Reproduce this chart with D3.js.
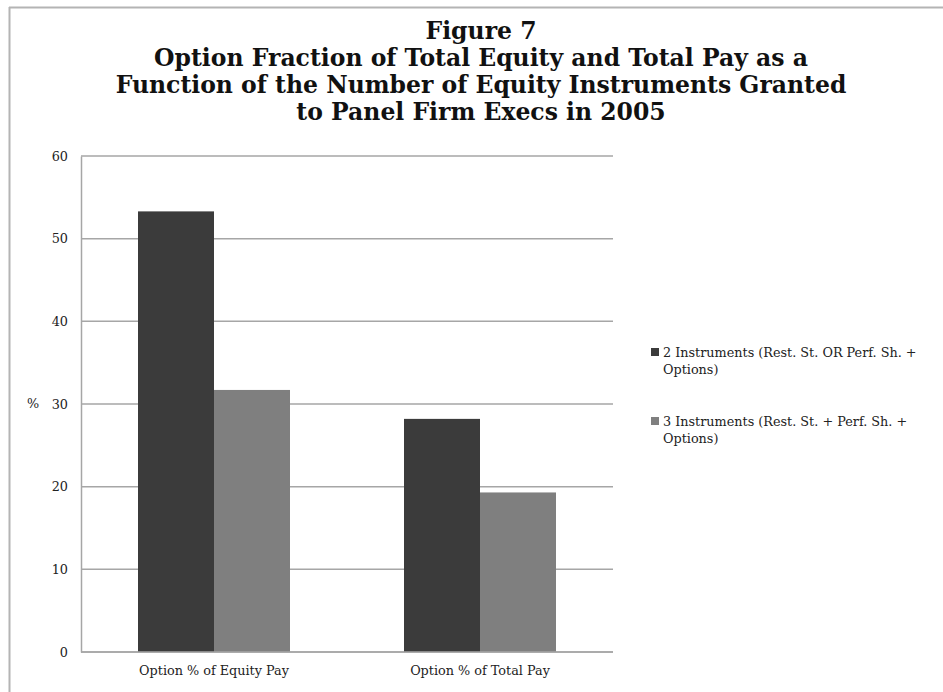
<!DOCTYPE html>
<html>
<head>
<meta charset="utf-8">
<script src="https://cdn.jsdelivr.net/npm/d3@7"></script>
<style>
  html, body { margin: 0; padding: 0; background: #fff; }
  svg { display: block; }
  text { font-family: "DejaVu Serif", "Liberation Serif", serif; fill: #222; }
</style>
</head>
<body>
<svg id="chart" width="943" height="692"></svg>
<script>
// Chart data
const titleLines = [
  "Figure 7",
  "Option Fraction of Total Equity and Total Pay as a",
  "Function of the Number of Equity Instruments Granted",
  "to Panel Firm Execs in 2005"
];
const categories = ["Option % of Equity Pay", "Option % of Total Pay"];
const seriesNames = [
  ["2 Instruments (Rest. St. OR Perf. Sh. +", "Options)"],
  ["3 Instruments (Rest. St. + Perf. Sh. +", "Options)"]
];
const twoInstruments = [53.3, 28.2];
const threeInstruments = [31.7, 19.3];
const yTicks = [0, 10, 20, 30, 40, 50, 60];
const yLabel = "%";
const seriesColors = ["#3b3b3b", "#7f7f7f"];

const series = [twoInstruments, threeInstruments];
const labelSize = "12.8px";

const svg = d3.select("#chart");

// Frame lines (top and left edges)
svg.append("line").attr("x1", 9).attr("x2", 943).attr("y1", 7.5).attr("y2", 7.5)
  .attr("stroke", "#b4b4b4").attr("stroke-width", 2);
svg.append("line").attr("x1", 9.5).attr("x2", 9.5).attr("y1", 7).attr("y2", 692)
  .attr("stroke", "#b4b4b4").attr("stroke-width", 2);

// Title
svg.append("g").selectAll("text").data(titleLines).join("text")
  .attr("x", 481)
  .attr("y", (d, i) => 39 + i * 27)
  .attr("text-anchor", "middle")
  .style("font-size", "23.5px")
  .style("font-weight", "bold")
  .style("fill", "#111")
  .text(d => d);

const plot = { left: 81, right: 613, top: 156, bottom: 652 };

const y = d3.scaleLinear().domain([0, 60]).range([plot.bottom, plot.top]);
const x0 = d3.scaleBand().domain(categories).range([plot.left, plot.right]).paddingInner(0).paddingOuter(0);
const x1 = d3.scaleBand().domain(d3.range(series.length))
  .range([0, x0.bandwidth()]).paddingInner(0).paddingOuter(0.75);

// Gridlines
svg.append("g").selectAll("line").data(yTicks).join("line")
  .attr("x1", plot.left).attr("x2", plot.right)
  .attr("y1", d => y(d)).attr("y2", d => y(d))
  .attr("stroke", "#a6a6a6").attr("stroke-width", 1.5);

// Y axis
const yAxis = svg.append("g")
  .attr("transform", `translate(${plot.left},0)`)
  .call(d3.axisLeft(y).tickValues(yTicks).tickSize(0).tickPadding(13));
yAxis.select(".domain").attr("stroke", "#a6a6a6").attr("stroke-width", 1.5);
yAxis.selectAll("text").style("font-size", labelSize)
  .style("font-family", '"DejaVu Serif", serif').attr("fill", "#222");

svg.append("text").attr("x", 33).attr("y", y(30) + 4)
  .attr("text-anchor", "middle").style("font-size", labelSize).text(yLabel);

// Bars
const groups = svg.append("g").selectAll("g").data(categories).join("g")
  .attr("transform", d => `translate(${x0(d)},0)`);
groups.selectAll("rect")
  .data((c, ci) => series.map((s, si) => ({ si, v: s[ci] })))
  .join("rect")
  .attr("x", d => x1(d.si))
  .attr("width", x1.bandwidth())
  .attr("y", d => y(d.v))
  .attr("height", d => y(0) - y(d.v))
  .attr("fill", d => seriesColors[d.si]);

// Baseline drawn over bars
svg.append("line").attr("x1", plot.left).attr("x2", plot.right)
  .attr("y1", y(0)).attr("y2", y(0)).attr("stroke", "#a6a6a6").attr("stroke-width", 1.5);

// Category axis labels
const xAxis = svg.append("g")
  .attr("transform", `translate(0,${plot.bottom})`)
  .call(d3.axisBottom(x0).tickSize(0).tickPadding(14));
xAxis.select(".domain").remove();
xAxis.selectAll("text").style("font-size", labelSize)
  .style("font-family", '"DejaVu Serif", serif').attr("fill", "#222");

// Legend
const legend = svg.append("g").selectAll("g").data(seriesNames).join("g")
  .attr("transform", (d, i) => `translate(651,${357 + i * 69})`);
legend.append("rect").attr("x", 0).attr("y", -9).attr("width", 8).attr("height", 8)
  .attr("fill", (d, i) => seriesColors[i]);
legend.selectAll("text").data(d => d).join("text")
  .attr("x", 12).attr("y", (d, i) => i * 17)
  .style("font-size", labelSize)
  .text(d => d);
</script>
</body>
</html>
